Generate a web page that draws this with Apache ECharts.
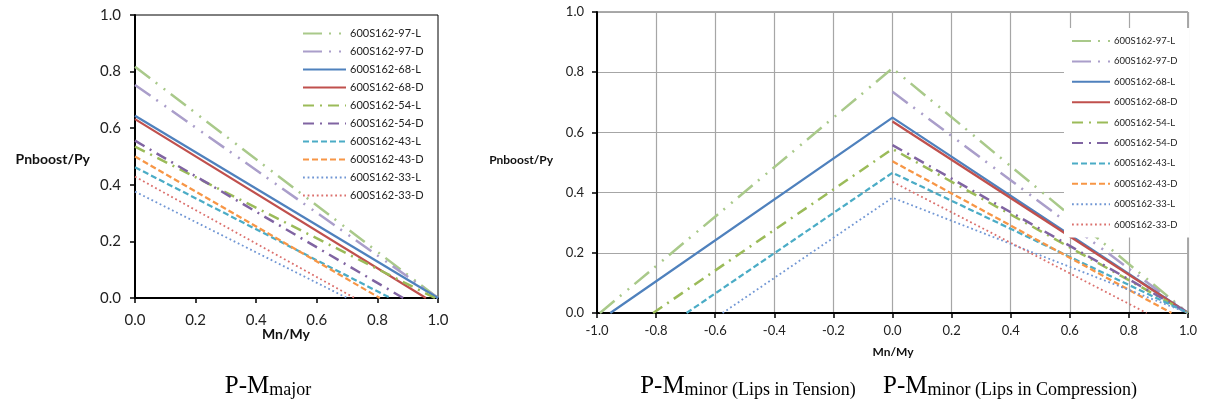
<!DOCTYPE html>
<html><head><meta charset="utf-8">
<script src="https://cdn.jsdelivr.net/npm/echarts@6/dist/echarts.min.js"></script>
<style>html,body{margin:0;padding:0;background:#fff}#c{width:1232px;height:415px}</style>
</head><body><div id="c"></div>
<script>
// ---- data ----
const seriesNames = ['600S162-97-L','600S162-97-D','600S162-68-L','600S162-68-D','600S162-54-L','600S162-54-D','600S162-43-L','600S162-43-D','600S162-33-L','600S162-33-D'];
// P-M major: Pn/Py at Mn/My = 0, and Mn/My where Pn/Py = 0
const majorP0 = [0.817, 0.753, 0.644, 0.632, 0.535, 0.556, 0.462, 0.500, 0.376, 0.429];
const majorM0 = [1.00, 1.00, 1.00, 0.96, 0.99, 0.885, 0.843, 0.808, 0.700, 0.725];
// P-M minor: peak at Mn/My = 0, lips in tension (negative) and compression (positive)
const minorP0 = [0.813, 0.735, 0.649, 0.636, 0.545, 0.558, 0.466, 0.504, 0.383, 0.436];
const minorTensionM0 = [-0.99, null, -0.955, null, -0.81, null, -0.697, null, -0.575, null];
const minorCompM0 = [1.00, 1.00, 1.00, 1.00, 1.00, 1.00, 1.00, 0.944, 1.00, 0.86];
// axis ticks
const majorXTicks = [0.0, 0.2, 0.4, 0.6, 0.8, 1.0];
const minorXTicks = [-1.0, -0.8, -0.6, -0.4, -0.2, 0.0, 0.2, 0.4, 0.6, 0.8, 1.0];
const yTicks = [0.0, 0.2, 0.4, 0.6, 0.8, 1.0];

// ---- styles ----
const colors = ['#A9C98A','#AA9ECA','#4F81BD','#C0504D','#9BBB59','#8064A2','#4BACC6','#F79646','#7096D4','#DB706D'];
const lineTypes = [
  [19,7,2,8,2,7], [19,7,2,8,2,7],
  'solid','solid',
  [11,6,2,6],[11,6,2,6],
  [6,3],[6,3],
  [1.8,2.8],[1.8,2.8]
];
const lineWidths = [2.5,2.5,2.25,2.25,2.5,2.5,2.25,2.25,1.8,1.8];

const FONT = 'Lato';
const series = [];
seriesNames.forEach((n,i)=>{
  const ls = {color: colors[i], width: lineWidths[i], type: lineTypes[i], cap: 'butt'};
  series.push({
    name:n, type:'line', xAxisIndex:0, yAxisIndex:0, symbol:'none', animation:false,
    lineStyle: ls, itemStyle:{color:colors[i]},
    data: [[0, majorP0[i]], [majorM0[i], 0]]
  });
  const d = [];
  if (minorTensionM0[i] !== null) d.push([minorTensionM0[i], 0]);
  d.push([0, minorP0[i]]);
  d.push([minorCompM0[i], 0]);
  series.push({
    name:n, type:'line', xAxisIndex:1, yAxisIndex:1, symbol:'none', animation:false,
    lineStyle: ls, itemStyle:{color:colors[i]},
    data: d
  });
});

const fmt = v => v.toFixed(1);
const capRich = {
  a:{fontFamily:'Liberation Serif', fontSize:25, lineHeight:28, fill:'#000', verticalAlign:'bottom'},
  b:{fontFamily:'Liberation Serif', fontSize:18, lineHeight:15, fill:'#000', verticalAlign:'bottom'}
};

const option = {
  animation:false,
  backgroundColor:'#fff',
  textStyle:{fontFamily:FONT},
  grid:[
    {left:135, top:15, width:303, height:283, show:true, borderColor:'#000', borderWidth:1, backgroundColor:'transparent'},
    {left:597, top:12, width:591, height:301, show:true, borderColor:'#555', borderWidth:1, backgroundColor:'transparent'}
  ],
  xAxis:[
    {gridIndex:0, type:'value', min:majorXTicks[0], max:majorXTicks[majorXTicks.length-1], interval:0.2,
     axisLine:{show:true, onZero:false, lineStyle:{color:'#000', width:2}},
     axisTick:{show:true, inside:false, length:5, lineStyle:{color:'#000', width:1.5}},
     axisLabel:{fontSize:15, color:'#222', margin:15, fontFamily:FONT, formatter:fmt},
     splitLine:{show:false}},
    {gridIndex:1, type:'value', min:minorXTicks[0], max:minorXTicks[minorXTicks.length-1], interval:0.2,
     axisLine:{show:true, onZero:false, lineStyle:{color:'#000', width:2}},
     axisTick:{show:true, inside:false, length:5, lineStyle:{color:'#000', width:1.5}},
     axisLabel:{fontSize:13, color:'#222', margin:11, fontFamily:FONT, formatter:fmt},
     splitLine:{show:true, lineStyle:{color:'#A6A6A6', width:1.2}}}
  ],
  yAxis:[
    {gridIndex:0, type:'value', min:yTicks[0], max:yTicks[yTicks.length-1], interval:0.2,
     axisLine:{show:true, onZero:false, lineStyle:{color:'#000', width:2}},
     axisTick:{show:true, inside:false, length:5, lineStyle:{color:'#000', width:1.5}},
     axisLabel:{fontSize:15, color:'#222', margin:14, fontFamily:FONT, formatter:fmt},
     splitLine:{show:false}},
    {gridIndex:1, type:'value', min:yTicks[0], max:yTicks[yTicks.length-1], interval:0.2,
     axisLine:{show:true, onZero:false, lineStyle:{color:'#000', width:2}},
     axisTick:{show:true, inside:false, length:5, lineStyle:{color:'#000', width:1.5}},
     axisLabel:{fontSize:13, color:'#222', margin:13, fontFamily:FONT, formatter:fmt},
     splitLine:{show:true, lineStyle:{color:'#A6A6A6', width:1.2}}}
  ],
  legend:[
    {orient:'vertical', left:302, top:28, padding:0, itemWidth:43, itemHeight:10, itemGap:7,
     selectedMode:false, data:seriesNames, itemStyle:{opacity:0},
     textStyle:{fontSize:11, color:'#222', fontFamily:FONT, padding:[0,0,0,-1]}},
    {orient:'vertical', left:1064, top:28, padding:[8,12,8,7], itemWidth:38, itemHeight:10, itemGap:10.4,
     backgroundColor:'#fff', selectedMode:false, data:seriesNames, itemStyle:{opacity:0},
     textStyle:{fontSize:9.5, color:'#222', fontFamily:FONT, padding:[0,0,0,-1]}}
  ],
  graphic:[
    {type:'text', x:90, y:159, style:{text:'Pnboost/Py', fontFamily:FONT, fontWeight:'bold', fontSize:14, fill:'#111', align:'right', verticalAlign:'middle'}},
    {type:'text', x:286, y:334, style:{text:'Mn/My', fontFamily:FONT, fontWeight:'bold', fontSize:14, fill:'#111', align:'center', verticalAlign:'middle'}},
    {type:'text', x:553, y:160, style:{text:'Pnboost/Py', fontFamily:FONT, fontWeight:'bold', fontSize:12, fill:'#111', align:'right', verticalAlign:'middle'}},
    {type:'text', x:893, y:352, style:{text:'Mn/My', fontFamily:FONT, fontWeight:'bold', fontSize:12, fill:'#111', align:'center', verticalAlign:'middle'}},
    {type:'text', x:268, y:385, style:{text:'{a|P-M}{b|major}', align:'center', verticalAlign:'middle', rich:capRich}},
    {type:'text', x:748, y:385, style:{text:'{a|P-M}{b|minor (Lips in Tension)}', align:'center', verticalAlign:'middle', rich:capRich}},
    {type:'text', x:1010, y:385, style:{text:'{a|P-M}{b|minor (Lips in Compression)}', align:'center', verticalAlign:'middle', rich:capRich}}
  ],
  series: series
};
const chart = echarts.init(document.getElementById('c'), null, {renderer:'canvas', width:1232, height:415});
chart.setOption(option);
</script>
</body></html>
